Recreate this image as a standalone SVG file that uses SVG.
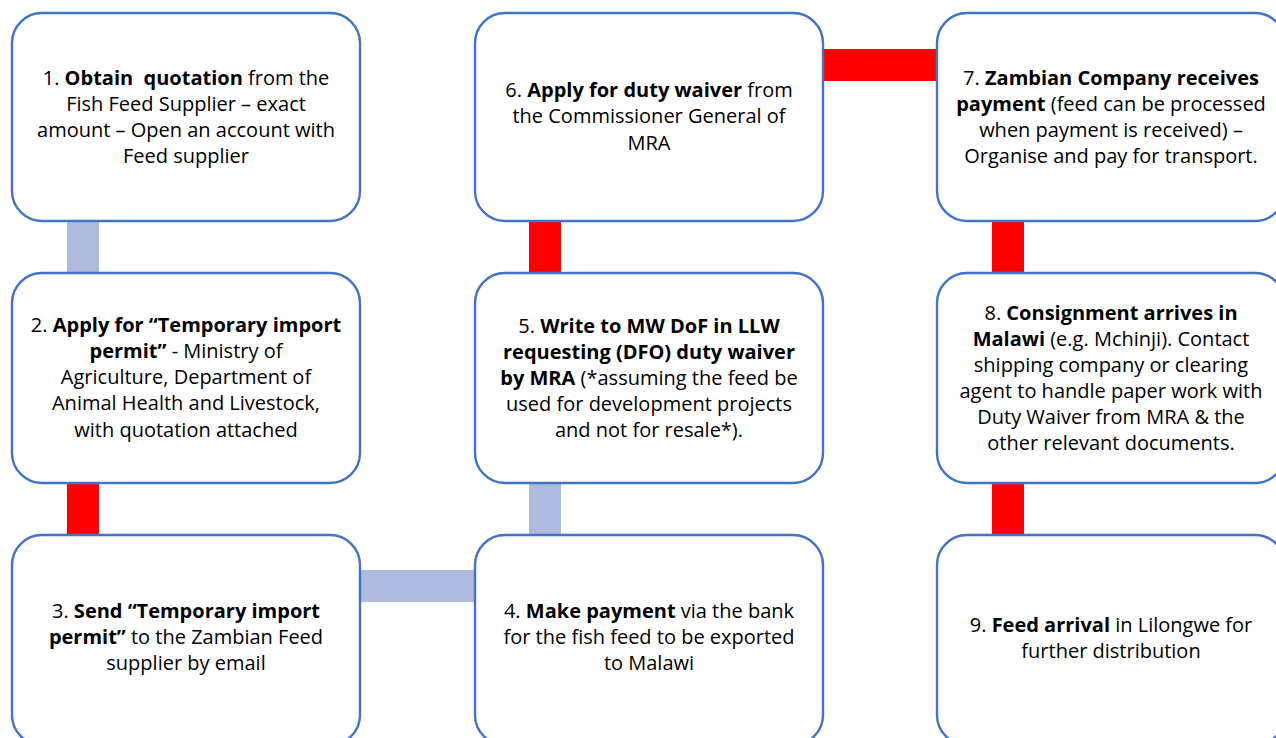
<svg xmlns="http://www.w3.org/2000/svg" width="1276" height="738" viewBox="0 0 1276 738">
<style>
.node{fill:#fff;stroke:#4472c4;stroke-width:2.4}
.blue{fill:#afbbde}
.red{fill:#ff0000}
text{font-family:"Open Sans",Lato,"Liberation Sans",sans-serif;font-size:20px;fill:#000;text-anchor:middle;white-space:pre}
.b{font-weight:bold}
</style>
<rect width="1276" height="738" fill="#fff"/>
<g id="connectors">
<rect class="blue" x="67" y="219" width="32" height="56"/>
<rect class="red" x="67" y="481" width="32" height="56"/>
<rect class="blue" x="358" y="570" width="119" height="32"/>
<rect class="blue" x="529" y="481" width="32" height="56"/>
<rect class="red" x="529" y="219" width="32" height="56"/>
<rect class="red" x="821" y="49" width="118" height="32"/>
<rect class="red" x="992" y="219" width="32" height="56"/>
<rect class="red" x="992" y="481" width="32" height="56"/>
</g>
<g id="node1">
<rect class="node" x="12" y="13" width="348" height="208" rx="30"/>
<text x="186" y="85">1. <tspan class="b">Obtain  quotation</tspan> from the</text>
<text x="186" y="111">Fish Feed Supplier – exact</text>
<text x="186" y="137">amount – Open an account with</text>
<text x="186" y="163">Feed supplier</text>
</g>
<g id="node2">
<rect class="node" x="12" y="273" width="348" height="210" rx="30"/>
<text x="186" y="332">2. <tspan class="b">Apply for “Temporary import</tspan></text>
<text x="186" y="358"><tspan class="b">permit”</tspan> - Ministry of</text>
<text x="186" y="384">Agriculture, Department of</text>
<text x="186" y="410">Animal Health and Livestock,</text>
<text x="186" y="437">with quotation attached</text>
</g>
<g id="node3">
<rect class="node" x="12" y="535" width="348" height="210" rx="30"/>
<text x="186" y="618">3. <tspan class="b">Send “Temporary import</tspan></text>
<text x="186" y="644"><tspan class="b">permit”</tspan> to the Zambian Feed</text>
<text x="186" y="670">supplier by email</text>
</g>
<g id="node4">
<rect class="node" x="475" y="535" width="348" height="210" rx="30"/>
<text x="649" y="618">4. <tspan class="b">Make payment</tspan> via the bank</text>
<text x="649" y="644">for the fish feed to be exported</text>
<text x="649" y="670">to Malawi</text>
</g>
<g id="node5">
<rect class="node" x="475" y="273" width="348" height="210" rx="30"/>
<text x="649" y="333">5. <tspan class="b">Write to MW DoF in LLW</tspan></text>
<text x="649" y="359" class="b">requesting (DFO) duty waiver</text>
<text x="649" y="385"><tspan class="b">by MRA</tspan> (*assuming the feed be</text>
<text x="649" y="411">used for development projects</text>
<text x="649" y="437">and not for resale*).</text>
</g>
<g id="node6">
<rect class="node" x="475" y="13" width="348" height="208" rx="30"/>
<text x="649" y="97">6. <tspan class="b">Apply for duty waiver</tspan> from</text>
<text x="649" y="123">the Commissioner General of</text>
<text x="649" y="150">MRA</text>
</g>
<g id="node7">
<rect class="node" x="937" y="13" width="348" height="208" rx="30"/>
<text x="1111" y="85">7. <tspan class="b">Zambian Company receives</tspan></text>
<text x="1111" y="111"><tspan class="b">payment</tspan> (feed can be processed</text>
<text x="1111" y="137">when payment is received) –</text>
<text x="1111" y="163">Organise and pay for transport.</text>
</g>
<g id="node8">
<rect class="node" x="937" y="273" width="348" height="210" rx="30"/>
<text x="1111" y="320">8. <tspan class="b">Consignment arrives in</tspan></text>
<text x="1111" y="346"><tspan class="b">Malawi</tspan> (e.g. Mchinji). Contact</text>
<text x="1111" y="372">shipping company or clearing</text>
<text x="1111" y="398">agent to handle paper work with</text>
<text x="1111" y="424">Duty Waiver from MRA &amp; the</text>
<text x="1111" y="450">other relevant documents.</text>
</g>
<g id="node9">
<rect class="node" x="937" y="535" width="348" height="210" rx="30"/>
<text x="1111" y="632">9. <tspan class="b">Feed arrival</tspan> in Lilongwe for</text>
<text x="1111" y="658">further distribution</text>
</g>
</svg>
